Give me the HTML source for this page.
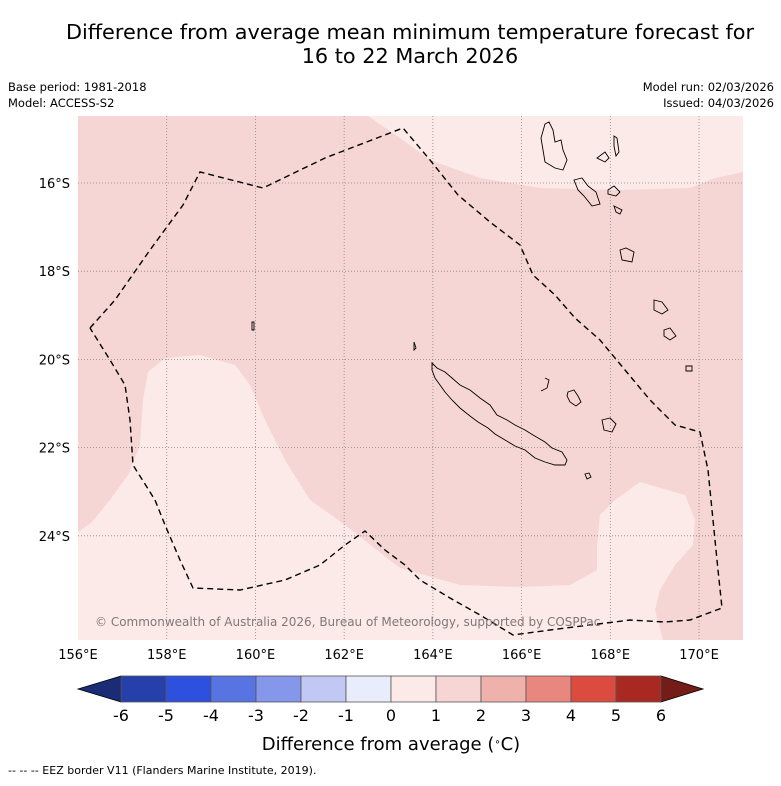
<!DOCTYPE html>
<html><head><meta charset="utf-8"><style>
body{margin:0;background:#fff;width:781px;height:781px;overflow:hidden;font-family:"Liberation Sans","DejaVu Sans",sans-serif}
</style></head><body>
<svg id="chart" width="781" height="781" xmlns="http://www.w3.org/2000/svg" font-family="DejaVu Sans, Liberation Sans, sans-serif">
<text x="410" y="39" font-size="20.8" text-anchor="middle">Difference from average mean minimum temperature forecast for</text>
<text x="410" y="63" font-size="20.8" text-anchor="middle">16 to 22 March 2026</text>
<text x="8" y="91" font-size="11.5">Base period: 1981-2018</text>
<text x="8" y="107" font-size="11.5">Model: ACCESS-S2</text>
<text x="774" y="91" font-size="11.5" text-anchor="end">Model run: 02/03/2026</text>
<text x="774" y="107" font-size="11.5" text-anchor="end">Issued: 04/03/2026</text>
<g>
<rect x="78" y="116" width="665" height="524" fill="#f5d6d4"/>
<polygon fill="#fbeae8" points="368,116 400,138 430,160 480,178 540,188 620,190 690,188 715,178 743,172 743,116"/>
<polygon fill="#fbeae8" points="78,532 92,522 110,500 128,475 140,445 143,400 148,372 165,358 200,355 235,365 250,385 265,420 285,460 310,500 345,525 400,568 460,585 520,587 570,585 597,570 597,545 600,515 615,500 640,482 685,495 695,520 693,545 675,565 660,590 655,610 663,640 78,640"/>
<g id="grid" stroke="#888" stroke-width="0.8" stroke-dasharray="1,2"></g>
<g fill="none" stroke="#000" stroke-width="0.9">
<polygon points="432,363 437,368 445,372 452,378 460,385 470,390 480,398 490,405 497,415 507,420 515,425 525,430 533,435 545,442 552,448 562,452 567,460 565,465 555,465 545,462 535,458 525,450 515,446 505,440 495,434 488,428 478,422 470,416 460,408 452,400 445,392 440,385 435,378 432,370"/>
<path d="M545,378 l4,2 -2,8 -6,3 M568,392 l6,-2 4,6 3,6 -5,4 -6,-4 -3,-6z M602,420 l8,-2 6,6 -4,8 -8,-2z M585,474 l4,-1 2,4 -4,2z"/>
<path d="M545,124 l4,-2 4,8 2,12 6,-2 2,10 4,10 -4,10 -8,-2 -10,-6 -2,-12 -2,-12z M614,136 l3,2 2,14 -3,4 -2,-10z M597,158 l8,-6 4,6 -4,4z M574,180 l8,-2 6,8 8,6 4,12 -8,2 -8,-10 -6,-6z M608,190 l6,-4 6,6 -4,4 -8,-2z M614,206 l8,4 -2,4 -4,-2z M620,250 l6,-2 8,4 -2,10 -10,-2z M654,300 l8,2 6,8 -6,4 -8,-4z M664,330 l6,-2 6,8 -6,4 -6,-4z M686,366 l6,0 0,5 -6,0z M252,322 l2,0 0,8 -2,0z M414,342 l2,6 -2,2z"/>
</g>
<polyline fill="none" stroke="#000" stroke-width="1.4" stroke-dasharray="6,4" points="90,328 115,300 150,250 183,205 200,172 263,188 325,158 403,128 430,160 458,195 490,222 520,245 533,275 555,295 575,318 600,340 625,370 650,400 675,425 700,432 708,470 713,520 718,570 722,608 690,620 665,622 630,620 590,625 550,630 513,635 480,615 450,598 420,580 405,565 385,550 365,531 345,545 320,565 285,580 240,590 193,588 180,560 165,525 155,500 133,465 130,420 125,385 110,360 90,328"/>
<text x="95" y="626" font-size="12" fill="#807878">© Commonwealth of Australia 2026, Bureau of Meteorology, supported by COSPPac</text>
</g>
<g id="axes" font-size="13"></g>
<g id="cbar"></g>
<text x="391" y="750" font-size="18" text-anchor="middle">Difference from average (<tspan baseline-shift="super" font-size="10">∘</tspan>C)</text>
<text x="8" y="774" font-size="11">--  --  -- EEZ border V11 (Flanders Marine Institute, 2019).</text>
</svg>
<script>
const lonTicks=[156,158,160,162,164,166,168,170];
const latTicks=[16,18,20,22,24];
const cbarTicks=[-6,-5,-4,-3,-2,-1,0,1,2,3,4,5,6];
const cbarColors=["#2540ab","#2e50de","#5874e3","#8497ea","#c1c8f3","#e9ecfb","#fbeae8","#f5d6d4","#efb1ab","#e9877e","#dc4b3f","#a92922"];
const cbarLow="#1a2c76", cbarHigh="#731c18";
const NS="http://www.w3.org/2000/svg";
const lx=l=>78+(l-156)*44.36, ly=l=>183+(l-16)*44.1;
function mk(t,a,p){const e=document.createElementNS(NS,t);for(const k in a)e.setAttribute(k,a[k]);p.appendChild(e);return e;}
const grid=document.getElementById('grid'), axes=document.getElementById('axes'), cb=document.getElementById('cbar');
lonTicks.forEach(l=>{
  if(l>156){const g=mk('line',{x1:lx(l),x2:lx(l),y1:116,y2:640},grid);
  
  }
  const t=mk('text',{x:lx(l),y:659,'text-anchor':'middle'},axes);t.textContent=l+'°E';
  
  
});
latTicks.forEach(l=>{
  const g=mk('line',{x1:78,x2:743,y1:ly(l),y2:ly(l)},grid);
  
  
  const t=mk('text',{x:70,y:ly(l)+5,'text-anchor':'end'},axes);t.textContent=l+'°S';
  
  
});
const x0=121,w=45,y0=676,h=26,mid=y0+h/2;
const lt=mk('polygon',{points:`78,${mid} ${x0},${y0} ${x0},${y0+h}`,fill:cbarLow,stroke:'#000','stroke-width':0.8},cb);


const xe=x0+cbarColors.length*w;
const rt=mk('polygon',{points:`${xe},${y0} ${xe+42},${mid} ${xe},${y0+h}`,fill:cbarHigh,stroke:'#000','stroke-width':0.8},cb);


cbarColors.forEach((c,i)=>{
  const r=mk('rect',{x:x0+i*w,y:y0,width:w,height:h,fill:c,stroke:'#555','stroke-width':0.8},cb);
  
  
});
cbarTicks.forEach((v,i)=>{
  const t=mk('text',{x:x0+i*w,y:721,'text-anchor':'middle','font-size':16},cb);t.textContent=v;
  
  
});
</script>
</body></html>
